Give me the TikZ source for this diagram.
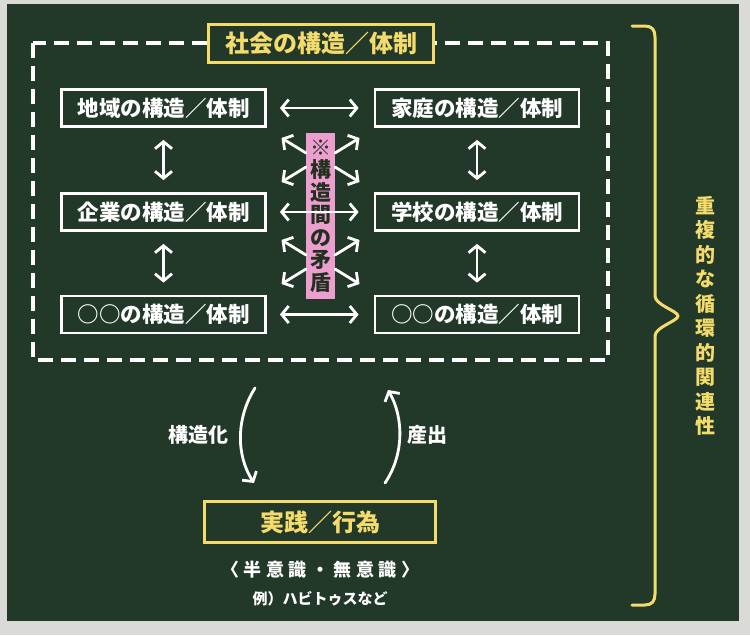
\documentclass[tikz,border=0pt]{standalone}
\usepackage{fontspec}
\setmainfont{Noto Sans CJK JP}
\usepackage{tikz}
\usetikzlibrary{arrows.meta,calc,positioning}

\definecolor{board}{HTML}{223829}
\definecolor{frame}{HTML}{DADAD6}
\definecolor{chalkyellow}{HTML}{F3DC6B}
\definecolor{chalkpink}{HTML}{EC9FCF}
\definecolor{pinkink}{HTML}{22301F}

\begin{document}
\begin{tikzpicture}[x=1pt, y=-1pt]
    \def\chalkw{2.8pt} % chalk line width

    % Style for nodes
    \tikzset{
        structbox/.style={draw=white, line width=\chalkw, fill=board, text=white, minimum width=204pt, minimum height=37pt, inner sep=0pt, font=\fontsize{21.5}{23}\selectfont\bfseries},
        yellowbox/.style={draw=chalkyellow, line width=3pt, fill=board, text=chalkyellow, inner sep=0pt, font=\fontsize{24}{26}\selectfont\bfseries},
        chalk/.style={white, line width=\chalkw, line cap=round},
        label/.style={text=white, inner sep=0pt, font=\fontsize{20}{22}\selectfont\bfseries},
        >={Straight Barb[length=7pt, width=17pt]}
    }

    % --- BOARD ---
    \useasboundingbox (0,0) rectangle (750,635);
    \fill[frame] (0,0) rectangle (750,635);
    \fill[board] (7,4) rectangle (739,621);

    % --- SOCIETY FRAME ---
    \draw[white, line width=4pt, dash pattern=on 15pt off 8pt] (33,43) rectangle (608,360);
    \node[yellowbox, minimum width=225pt, minimum height=38pt] (shakai) at (321,43.5) {社会の構造／体制};

    % --- STRUCTURE BOXES ---
    \node[structbox] (chiiki) at (163.5,108) {地域の構造／体制};
    \node[structbox] (katei)  at (477,108)   {家庭の構造／体制};
    \node[structbox] (kigyo)  at (163.5,212) {企業の構造／体制};
    \node[structbox] (gakko)  at (477,212)   {学校の構造／体制};
    \node[structbox] (hokaL)  at (163.5,314.5) {○○の構造／体制};
    \node[structbox] (hokaR)  at (477,314.5) {○○の構造／体制};

    % --- CONTRADICTION LABEL ---
    \node[fill=chalkpink, text=pinkink, minimum width=29pt, minimum height=166pt, inner sep=0pt, align=center, font=\fontsize{21}{22.5}\selectfont\bfseries] (mujun) at (320.5,216) {※\\構\\造\\間\\の\\矛\\盾};

    % --- ARROWS BETWEEN BOXES ---
    \draw[chalk, <->, shorten <=13pt, shorten >=15pt] (chiiki) -- (katei);
    \draw[chalk, <->, shorten <=13pt, shorten >=15pt] (kigyo) -- (gakko);
    \draw[chalk, <->, shorten <=13pt, shorten >=15pt] (hokaL) -- (hokaR);
    \draw[chalk, <->, shorten <=12pt, shorten >=12pt] (chiiki) -- (kigyo);
    \draw[chalk, <->, shorten <=12pt, shorten >=12pt] (kigyo) -- (hokaL);
    \draw[chalk, <->, shorten <=12pt, shorten >=12pt] (katei) -- (gakko);
    \draw[chalk, <->, shorten <=12pt, shorten >=12pt] (gakko) -- (hokaR);

    % diagonal arrows out of the label
    \foreach \m [count=\i] in {160,262} {
        \foreach \s/\n in {-1/l,1/r} {
            \foreach \t/\u in {-1/a,1/b} {
                \coordinate (src\i\n\u) at ({320.5+\s*14.5},{\m+\t*7});
                \coordinate (tip\i\n\u) at ({320.5+\s*39},{\m+\t*22});
                \draw[chalk, ->] (src\i\n\u) -- (tip\i\n\u);
            }
        }
    }

    % --- PRACTICE ---
    \node[yellowbox, minimum width=231pt, minimum height=41pt] (jissen) at (320,522) {実践／行為};
    \node[label, font=\fontsize{18}{20}\selectfont\bfseries\addfontfeatures{LetterSpace=25}] (ishiki) at (320,570) {〈半意識・無意識〉};
    \node[label, font=\fontsize{15}{17}\selectfont\bfseries] (rei) at (320,599) {例）ハビトゥスなど};

    % --- CYCLE ---
    \coordinate (kozoTop) at (255,388);
    \coordinate (kozoEnd) at (254,483);
    \coordinate (sanTop) at (388,390);
    \coordinate (sanEnd) at (385,483);
    \draw[chalk, ->] (kozoTop) .. controls (236,418) and (236,455) .. (kozoEnd);
    \draw[chalk, ->] (sanEnd) .. controls (404,455) and (404,418) .. (sanTop);
    \node[label] (kozoka) at (198,435) {構造化};
    \node[label] (sanshutsu) at (427,435) {産出};

    % --- BRACE ---
    \draw[chalkyellow, line width=3pt, line cap=round, line join=round]
        (632,26) -- (645,26) .. controls (652,26) and (655,30) .. (655,37)
        -- (655,296) .. controls (655,305) and (678,311) .. (678,316)
        .. controls (678,321) and (655,327) .. (655,336)
        -- (655,594) .. controls (655,601) and (652,605) .. (645,605) -- (632,605);
    \node[text=chalkyellow, inner sep=0pt, align=center, font=\fontsize{20}{24.5}\selectfont\bfseries] (junkan) at (705,316) {重\\複\\的\\な\\循\\環\\的\\関\\連\\性};

\end{tikzpicture}
\end{document}
